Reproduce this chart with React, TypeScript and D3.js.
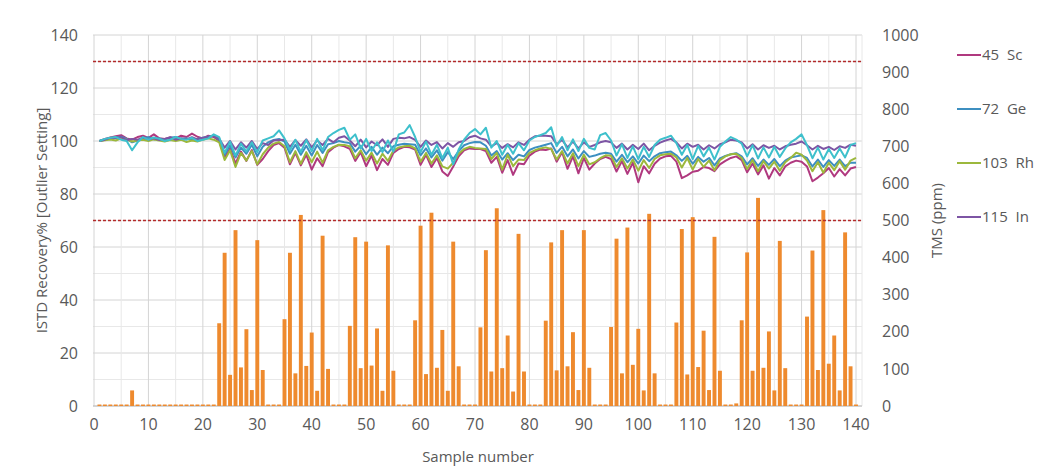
import * as d3 from 'd3';

// sample numbers 1..140
const samples = d3.range(1, 141);

// TMS (ppm), right axis
const tms = [
  4, 4, 4, 4, 4, 4, 42, 4, 4, 4, 4, 4, 4, 4, 4, 4, 4, 4, 4, 4, 4, 4,
  223, 413, 84, 474, 104, 207, 43, 447, 97, 4, 4, 4,
  234, 413, 88, 515, 108, 198, 41, 459, 100, 4, 4, 4,
  216, 455, 102, 443, 109, 209, 41, 433, 95, 4, 4, 4,
  231, 486, 86, 521, 103, 205, 41, 443, 107, 4, 4, 4,
  212, 420, 93, 533, 102, 190, 39, 464, 93, 4, 4, 4,
  230, 441, 96, 474, 107, 199, 43, 474, 103, 4, 4, 4,
  213, 451, 88, 481, 111, 208, 42, 518, 88, 4, 4, 4,
  225, 477, 85, 509, 105, 203, 43, 456, 95, 4, 4, 7,
  231, 414, 95, 561, 103, 201, 42, 445, 102, 4, 4, 4,
  241, 419, 97, 528, 114, 190, 42, 468, 107, 4,
];

// ISTD recovery %, left axis
const sc45 = [
  100, 100.8, 101.3, 101.8, 102.2, 101, 100.5, 101.5, 102, 101.2, 102.5, 101, 100.8, 101.4, 100.9, 102, 101.5, 102.8, 101.6, 101, 102, 101.5,
  100, 93.8, 97.2, 91.5, 96, 92.5, 96.6, 91, 93.2, 96.2, 98.5, 99.2,
  97.5, 91.2, 95.5, 90.8, 94.8, 89.2, 93.5, 90.5, 95.8, 97.5, 98.5, 98,
  97, 92.5, 95.8, 90.5, 94.5, 89, 93.2, 91, 95.5, 97, 97.8, 97.6,
  96.8, 91, 94.8, 90.2, 93.6, 88.5, 86.8, 90.4, 94.2, 96.5, 97.2, 97,
  97, 96.2, 91.8, 94, 88, 92.8, 87.2, 91.5, 91.2, 94.5, 96, 96.8,
  96.6, 97.2, 92.2, 95.8, 89.5, 94.2, 87.8, 93.6, 89.2, 91.5, 93.2, 94,
  93.2, 88.5, 92.4, 87.6, 91.8, 84.4, 90.5, 87.8, 91.4, 93.4, 94.2, 94.4,
  92.2, 86, 87, 88.4, 88.8, 90.2, 89.8, 88.6, 91.2, 92.5, 93.6, 94.2,
  92.8, 88.2, 91.5, 87.4, 90.8, 85.8, 89.8, 87, 90.4, 91.8, 92.6, 92.2,
  90.4, 84.8, 86.2, 87.8, 89.8, 86.6, 89.4, 87, 89.6, 90.2,
];
const ge72 = [
  100, 100.5, 100.8, 101.3, 101.6, 100.8, 99.5, 100.2, 101, 101.4, 100.6, 101, 100.5, 101.2, 101.5, 100.8, 101, 100.4, 100.8, 101.2, 101.6, 102,
  100.5, 94.8, 98.4, 93.8, 97.5, 95.2, 98.6, 94.2, 97.8, 99.5, 100.4, 100.8,
  99.8, 95.2, 98.6, 94.8, 98.2, 94.5, 98.5, 95.5, 98.8, 99.2, 100, 99.5,
  99.2, 96, 98.2, 95, 97.8, 94.8, 97.5, 95.4, 98, 98.6, 99, 98.8,
  98.6, 94.6, 97.2, 93.8, 96.5, 92.6, 95.8, 93.2, 96.2, 98.4, 99.2, 99.6,
  99.5, 98.2, 94.5, 96.2, 93, 95.4, 92.8, 94.8, 94.2, 96.6, 97.5, 98,
  98.6, 99.2, 95.5, 97.8, 94.2, 96.8, 93.4, 96.2, 94, 94.5, 95.2, 95.6,
  95.2, 92.2, 94.8, 92, 94.2, 91.5, 94.5, 92.4, 94.2, 95.4, 95.8, 96,
  94.6, 92.5, 94.4, 91.4, 94, 92.2, 93.6, 90.8, 93.4, 94.4, 95, 95.4,
  94.2, 91.2, 93.5, 90.6, 93, 91, 93.2, 90.5, 92.6, 93.8, 94.2, 94.6,
  93.6, 90.4, 93, 90.2, 92.8, 90.6, 93, 90.5, 91.8, 91.8,
];
const rh103 = [
  100, 100.3, 100.6, 100.2, 101, 100.5, 99.8, 100.2, 100.5, 100, 100.6, 100.2, 99.8, 100.4, 100, 100.5, 99.6, 100.2, 99.8, 100.5, 101, 100.5,
  99.5, 92.8, 96.5, 90.2, 95.5, 92.6, 96.2, 91.2, 95, 97.5, 99, 99.6,
  98, 92, 96.2, 91.4, 95.8, 92, 96, 91.8, 96.5, 97.8, 98.6, 98.5,
  98, 93.5, 96.5, 92.6, 95.6, 91.5, 95.2, 92.5, 96.4, 97.6, 98, 98.2,
  97.2, 92.2, 95.5, 91.5, 94.6, 90.4, 89.6, 91.8, 95.2, 97, 97.8, 97.4,
  97.2, 97, 93.2, 95.5, 89.2, 94.8, 90.5, 93, 92.8, 95.5, 96.5, 97.2,
  97.6, 97, 93, 96.2, 91.5, 95.4, 90.5, 94.8, 91.2, 92, 93.5, 94.6,
  94.4, 90.2, 93.5, 89.6, 93, 88.8, 92.8, 89.8, 93.2, 94.6, 95, 95.2,
  93.8, 90, 93.6, 89.2, 93.2, 90.2, 92.6, 89, 92.8, 94.2, 95, 95.2,
  93.6, 89.4, 92.8, 88.6, 92.4, 89.6, 92.2, 88.8, 92, 93.6, 95.6, 94.8,
  92.6, 88.6, 92, 88, 91.8, 89, 92.4, 89.2, 92.6, 93.6,
];
const in115 = [
  100, 100.5, 101.2, 101, 101.5, 100.3, 100.8, 100.5, 101.2, 100.6, 101, 100.4, 100.8, 101.3, 100.5, 101, 100.7, 101.4, 100.6, 101.2, 101.5, 102,
  100.8, 97.5, 100, 96.8, 99.5, 97.5, 100, 97, 99.2, 98.5, 100.2, 100.4,
  100.5, 97.8, 100.3, 98.2, 100.6, 97.6, 100.2, 98.5, 100.8, 99.5, 101.2, 101.8,
  100.2, 98, 100.5, 97.6, 99.8, 98.4, 100.6, 97.8, 100.8, 101.2, 101, 101.5,
  100.4, 97.8, 100.2, 98.5, 99.6, 97.2, 99.2, 97.8, 99.5, 100, 101.4, 102,
  101, 100.5, 98, 99.2, 97.4, 98.8, 97.6, 99.5, 98.5, 100.5, 101.8, 102,
  102, 101.8, 98.8, 100.4, 97.6, 99.8, 97.2, 99.5, 97.8, 98.5, 99.5, 100,
  99.5, 97.4, 99, 96.8, 98.6, 97, 99, 96.5, 98.2, 99.4, 100.2, 100.8,
  99.5, 97.2, 99, 97.8, 98.6, 96.8, 98.4, 97.2, 98.8, 99.5, 100.5, 100.2,
  99.5, 97.2, 98.8, 96.8, 98.4, 97.4, 98.2, 96.8, 98, 98.6, 99, 99.8,
  98.4, 96.8, 98.2, 97, 97.8, 96.6, 98, 97.4, 98.6, 98.2,
];
// fifth ISTD trace (cyan), not listed in the visible legend
const istd5 = [
  100, 100.8, 101.2, 101.5, 100.5, 100, 96.5, 99.5, 101.5, 100.5, 101.3, 100.8, 100, 100.5, 101.5, 100.8, 100.5, 101.2, 100, 100.5, 101, 102.5,
  101.5, 95.5, 99.8, 94.5, 99, 96, 99.5, 95.8, 100.2, 101, 101.8, 104,
  101, 96.5, 100.5, 95.8, 100.4, 96.2, 100.8, 96.5, 101.5, 103, 104.2, 105,
  100.5, 102.5, 97.2, 100.8, 96.2, 99.5, 95.8, 100.2, 96, 102.5, 103.2, 106,
  101.5, 95.8, 99.8, 94.8, 98.6, 93.5, 97.5, 91.2, 96.8, 100.5, 103, 104.5,
  102.5, 105, 97.5, 100, 94.8, 98.6, 95.2, 99.2, 96.5, 100.2, 101.5, 102.2,
  103, 105.2, 98, 101.5, 96.5, 100.6, 96.2, 100.8, 97.4, 96.8, 102.2, 103,
  100.2, 94.5, 98.8, 93.6, 98, 93.2, 97.8, 94, 98.5, 100.5, 101.2, 102,
  99.2, 94.8, 98.5, 93.2, 98.2, 94.2, 97.5, 93, 97.8, 99.8, 101.5, 100.5,
  99, 94.2, 98.4, 93.4, 97.6, 93.8, 97.8, 94, 97.2, 99.5, 100.8, 102.5,
  98.4, 93.5, 97.5, 93, 97, 93.6, 97.2, 93.8, 98.5, 99.2,
];

const seriesNames = ['45  Sc', '72  Ge', '103  Rh', '115  In', ''];
const seriesValues = [sc45, ge72, rh103, in115, istd5];
const seriesColors = ['#B0397F', '#3D8FC0', '#9CB83C', '#7D55A4', '#3EC0CC'];

const leftTicks = d3.range(0, 141, 20);
const rightTicks = d3.range(0, 1001, 100);
const xTicks = d3.range(0, 141, 10);
const outlierLimits = [130, 70];

const W = 1057;
const H = 474;
const plot = { left: 93, right: 862, top: 35, bottom: 406 };
const font = '"Open Sans", "Liberation Sans", sans-serif';
const textColor = '#595959';

export default function App() {
  const x = d3.scaleLinear().domain([0, 140]).range([94, 856]);
  const yL = d3.scaleLinear().domain([0, 140]).range([plot.bottom, plot.top]);
  const yR = d3.scaleLinear().domain([0, 1000]).range([plot.bottom, plot.top]);
  const barW = (x(1) - x(0)) * 0.72;

  const line = d3
    .line<number>()
    .x((_, i) => x(samples[i]))
    .y((d) => yL(d));

  const hGrid = d3.range(0, 141, 10);
  const vGrid = d3.range(0, 141, 5);

  return (
    <svg
      width={W}
      height={H}
      style={{ position: 'absolute', left: 0, top: 0, background: '#fff' }}
      fontFamily={font}
    >
      {/* grid */}
      {hGrid.map((v) => (
        <line
          key={'h' + v}
          x1={plot.left}
          x2={plot.right}
          y1={yL(v)}
          y2={yL(v)}
          stroke={v % 20 === 0 ? '#D4D4D4' : '#E8E8E8'}
          strokeWidth={1}
        />
      ))}
      {vGrid.map((v) => (
        <line
          key={'v' + v}
          x1={x(v)}
          x2={x(v)}
          y1={plot.top}
          y2={plot.bottom}
          stroke={v % 10 === 0 ? '#D4D4D4' : '#E8E8E8'}
          strokeWidth={1}
        />
      ))}
      <line x1={plot.right} x2={plot.right} y1={plot.top} y2={plot.bottom} stroke="#E8E8E8" />
      <line x1={plot.left} x2={plot.right} y1={plot.bottom} y2={plot.bottom} stroke="#BFBFBF" />

      {/* TMS bars */}
      {tms.map((v, i) => (
        <rect
          key={'b' + i}
          x={x(samples[i]) - barW / 2}
          y={yR(v)}
          width={barW}
          height={plot.bottom - yR(v)}
          fill="#EE8A2E"
        />
      ))}

      {/* outlier limits */}
      {outlierLimits.map((v) => (
        <line
          key={'lim' + v}
          x1={plot.left}
          x2={plot.right}
          y1={yL(v)}
          y2={yL(v)}
          stroke="#B22A2A"
          strokeWidth={1.3}
          strokeDasharray="3,2"
        />
      ))}

      {/* ISTD lines */}
      {seriesValues.map((vals, k) => (
        <path
          key={'s' + k}
          d={line(vals) || ''}
          fill="none"
          stroke={seriesColors[k]}
          strokeWidth={2}
          strokeLinejoin="round"
        />
      ))}

      {/* left axis */}
      {leftTicks.map((v) => (
        <text key={'lt' + v} x={78} y={yL(v)} dy="0.35em" textAnchor="end" fontSize={16} fill={textColor}>
          {v}
        </text>
      ))}
      <text
        transform={`translate(42,${(plot.top + plot.bottom) / 2}) rotate(-90)`}
        textAnchor="middle"
        dy="0.35em"
        fontSize={15}
        fill={textColor}
      >
        ISTD Recovery% [Outlier Setting]
      </text>

      {/* right axis */}
      {rightTicks.map((v) => (
        <text key={'rt' + v} x={882} y={yR(v)} dy="0.35em" textAnchor="start" fontSize={16} fill={textColor}>
          {v}
        </text>
      ))}
      <text
        transform={`translate(937,${(plot.top + plot.bottom) / 2}) rotate(-90)`}
        textAnchor="middle"
        dy="0.35em"
        fontSize={15}
        fill={textColor}
      >
        TMS (ppm)
      </text>

      {/* x axis */}
      {xTicks.map((v) => (
        <text key={'xt' + v} x={x(v)} y={430} textAnchor="middle" fontSize={16} fill={textColor}>
          {v}
        </text>
      ))}
      <text x={478} y={462} textAnchor="middle" fontSize={15} fill={textColor}>
        Sample number
      </text>

      {/* legend */}
      {seriesNames.slice(0, 4).map((name, k) => (
        <g key={'lg' + k} transform={`translate(957,${55 + k * 54})`}>
          <line x1={0} x2={24} y1={0} y2={0} stroke={seriesColors[k]} strokeWidth={2} />
          <text x={25} y={0} dy="0.35em" fontSize={15} fill={textColor} style={{ whiteSpace: 'pre' }}>
            {name}
          </text>
        </g>
      ))}
    </svg>
  );
}
